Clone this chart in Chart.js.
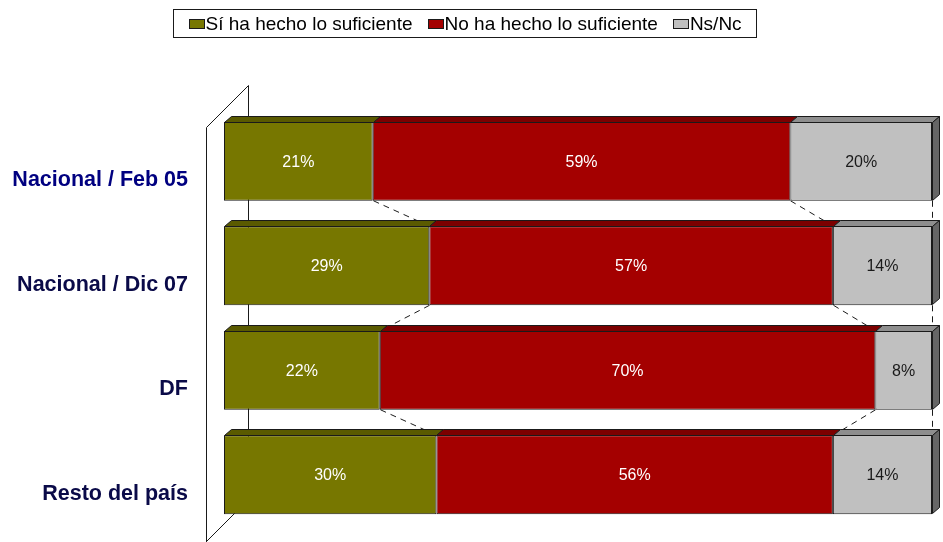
<!DOCTYPE html>
<html>
<head>
<meta charset="utf-8">
<script src="https://cdn.jsdelivr.net/npm/chart.js@4/dist/chart.umd.min.js"></script>
<style>
  html, body { margin: 0; padding: 0; background: #fff; }
  #wrap { width: 943px; height: 542px; position: relative; }
</style>
</head>
<body>
<div id="wrap"><canvas id="opinionChart"></canvas></div>
<script>
const categories = ['Nacional / Feb 05', 'Nacional / Dic 07', 'DF', 'Resto del país'];
const seriesNames = ['Sí ha hecho lo suficiente', 'No ha hecho lo suficiente', 'Ns/Nc'];
const siValues = [21, 29, 22, 30];
const noValues = [59, 57, 70, 56];
const nsValues = [20, 14, 8, 14];

const frontColors = ['#777700', '#a40000', '#c0c0c0'];
const topColors = ['#5a5a00', '#7c0000', '#8e8e8e'];
const sideColor = '#666666';
const labelColors = ['#ffffff', '#ffffff', '#1a1a1a'];
const edge = '#1a1a1a';
const DX = 7, DY = 6;

// 3D look: wall, series lines, top/side faces, value labels and boxed legend
const bar3d = {
  id: 'bar3d',
  beforeDatasetsDraw(chart) {
    const { ctx, chartArea: a } = chart;
    ctx.save();
    ctx.strokeStyle = edge;
    ctx.lineWidth = 1;
    const fx = a.left - 17.5, bx = fx + 42;
    const ft = a.top + 18.5, bt = ft - 42;
    const fb = 541.5, bb = fb - 42;
    ctx.beginPath();
    ctx.moveTo(fx, chart.height); ctx.lineTo(fx, ft); ctx.lineTo(bx, bt); ctx.lineTo(bx, bb);
    ctx.moveTo(fx, fb); ctx.lineTo(bx, bb);
    ctx.stroke();

    // dashed series lines between consecutive bars
    ctx.setLineDash([6, 5]);
    chart.data.datasets.forEach((ds, di) => {
      const bars = chart.getDatasetMeta(di).data;
      for (let i = 0; i < bars.length - 1; i++) {
        const p = bars[i].getProps(['x', 'y', 'height'], true);
        const q = bars[i + 1].getProps(['x', 'y', 'height'], true);
        ctx.beginPath();
        ctx.moveTo(Math.round(p.x) + 0.5, p.y + p.height / 2);
        ctx.lineTo(Math.round(q.x) + 0.5, q.y - q.height / 2);
        ctx.stroke();
      }
    });
    ctx.restore();
  },
  afterDatasetsDraw(chart) {
    const { ctx } = chart;
    const n = chart.data.datasets.length;
    ctx.save();
    ctx.lineWidth = 1;
    ctx.strokeStyle = edge;
    chart.data.datasets.forEach((ds, di) => {
      chart.getDatasetMeta(di).data.forEach((bar, i) => {
        const p = bar.getProps(['x', 'y', 'base', 'height'], true);
        const l = Math.round(p.base) + 0.5, r = Math.round(p.x) + 0.5;
        const t = Math.round(p.y - p.height / 2) + 0.5, b = Math.round(p.y + p.height / 2) - 0.5;
        ctx.fillStyle = topColors[di];
        ctx.beginPath();
        ctx.moveTo(l, t); ctx.lineTo(l + DX, t - DY); ctx.lineTo(r + DX, t - DY); ctx.lineTo(r, t);
        ctx.closePath(); ctx.fill(); ctx.stroke();
        if (di === n - 1) {
          ctx.fillStyle = sideColor;
          ctx.beginPath();
          ctx.moveTo(r, t); ctx.lineTo(r + DX, t - DY); ctx.lineTo(r + DX, b - DY); ctx.lineTo(r, b);
          ctx.closePath(); ctx.fill(); ctx.stroke();
        }
        ctx.fillStyle = labelColors[di];
        ctx.font = '16px Arial, "Liberation Sans", sans-serif';
        ctx.textAlign = 'center';
        ctx.textBaseline = 'middle';
        ctx.fillText(ds.data[i] + '%', (p.base + p.x) / 2, p.y + 1);
      });
    });
    ctx.restore();
  },
  afterDraw(chart) {
    const { ctx } = chart;
    ctx.save();
    ctx.font = '19px Arial, "Liberation Sans", sans-serif';
    const boxW = 16, boxH = 10, gap = 1, spacing = 15, pad = 15;
    const items = chart.data.datasets.map((ds, di) => ({
      label: ds.label, color: frontColors[di], w: boxW + gap + ctx.measureText(ds.label).width
    }));
    const inner = items.reduce((s, it) => s + it.w, 0) + spacing * (items.length - 1);
    const total = inner + pad * 2;
    const right = 756.5;
    const left = Math.round(right - total) + 0.5;
    const top = 9.5, h = 28;
    ctx.strokeStyle = edge;
    ctx.lineWidth = 1;
    ctx.strokeRect(left, top, right - left, h);
    let x = left + pad;
    const cy = top + h / 2;
    items.forEach(it => {
      ctx.fillStyle = it.color;
      ctx.fillRect(Math.round(x) + 0.5, Math.round(cy - boxH / 2) + 0.5, boxW - 1, boxH - 1);
      ctx.strokeRect(Math.round(x) + 0.5, Math.round(cy - boxH / 2) + 0.5, boxW - 1, boxH - 1);
      ctx.fillStyle = '#000';
      ctx.textAlign = 'left';
      ctx.textBaseline = 'middle';
      ctx.fillText(it.label, x + boxW + gap, cy + 1);
      x += it.w + spacing;
    });
    ctx.restore();
  }
};

const seriesValues = [siValues, noValues, nsValues];

new Chart(document.getElementById('opinionChart'), {
  type: 'bar',
  data: {
    labels: categories,
    datasets: seriesNames.map((name, i) => ({
      label: name,
      data: seriesValues[i],
      backgroundColor: frontColors[i],
      borderColor: edge,
      borderWidth: 1,
      borderSkipped: false,
      barPercentage: 0.757,
      categoryPercentage: 1
    }))
  },
  options: {
    indexAxis: 'y',
    responsive: true,
    maintainAspectRatio: false,
    animation: false,
    layout: { padding: { left: 10, right: 11, top: 109, bottom: 15 } },
    plugins: {
      legend: { display: false },
      tooltip: { enabled: false }
    },
    scales: {
      x: { stacked: true, min: 0, max: 100, display: false },
      y: {
        stacked: true,
        grid: { display: false, drawTicks: false },
        border: { display: false },
        afterFit: s => { s.width = 214; s.paddingTop = 0; s.paddingBottom = 0; },
        ticks: {
          padding: 36,
          labelOffset: 19,
          color: c => c.index === 0 ? '#000080' : '#0a0a48',
          font: { family: 'Arial', size: 21.5, weight: 'bold' }
        }
      }
    }
  },
  plugins: [bar3d]
});
</script>
</body>
</html>
